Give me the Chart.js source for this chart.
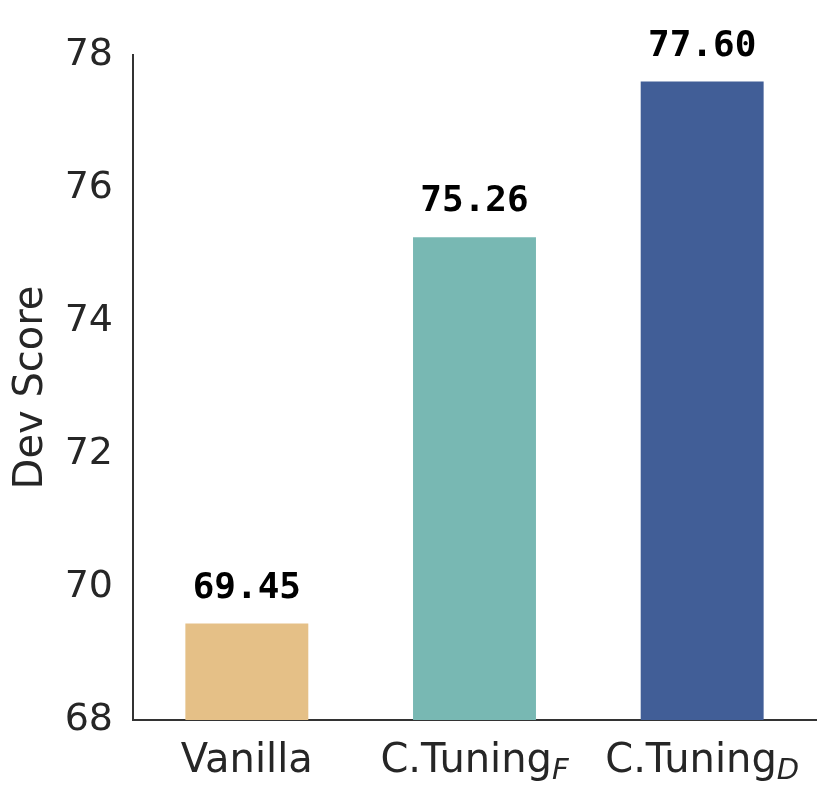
<!DOCTYPE html>
<html>
<head>
<meta charset="utf-8">
<script src="https://cdn.jsdelivr.net/npm/chart.js@4"></script>
<style>
  html, body { margin: 0; padding: 0; background: #fff; }
  #wrap { width: 830px; height: 798px; }
</style>
</head>
<body>
<div id="wrap"><canvas id="devChart"></canvas></div>
<script>
// data
const labelMain = ['Vanilla', 'C.Tuning', 'C.Tuning'];
const labelSub = ['', 'F', 'D'];
const devScores = [69.45, 75.26, 77.60];
const barColors = ['#e5c087', '#78b8b3', '#415e97'];
const yTicks = [68, 70, 72, 74, 76, 78];

const FONT = 'DejaVu Sans';
const TEXT = '#262626';

// value labels above bars + x labels with subscripts
const annotate = {
    id: 'annotate',
    afterDatasetsDraw(chart) {
        const ctx = chart.ctx;
        const meta = chart.getDatasetMeta(0);
        ctx.save();
        ctx.fillStyle = '#000';
        ctx.font = 'bold 36px "DejaVu Sans Mono"';
        ctx.textAlign = 'center';
        ctx.textBaseline = 'alphabetic';
        meta.data.forEach(function (bar, i) {
            ctx.fillText(devScores[i].toFixed(2), bar.x, bar.y - 26);
        });

        const xScale = chart.scales.x;
        const baseY = 772;
        ctx.fillStyle = TEXT;
        ctx.textAlign = 'left';
        labelMain.forEach(function (txt, i) {
            ctx.font = '40px "' + FONT + '"';
            const w1 = ctx.measureText(txt).width;
            ctx.font = 'italic 29px "' + FONT + '"';
            const w2 = labelSub[i] ? ctx.measureText(labelSub[i]).width : 0;
            const cx = xScale.getPixelForValue(i);
            const x0 = cx - (w1 + w2) / 2;
            ctx.font = '40px "' + FONT + '"';
            ctx.fillText(txt, x0, baseY);
            if (labelSub[i]) {
                ctx.font = 'italic 29px "' + FONT + '"';
                ctx.fillText(labelSub[i], x0 + w1, baseY + 7);
            }
        });
        ctx.restore();
    }
};

new Chart(document.getElementById('devChart'), {
    type: 'bar',
    data: {
        labels: labelMain.map((m, i) => m + labelSub[i]),
        datasets: [{
            data: devScores,
            backgroundColor: barColors,
            barPercentage: 0.54,
            categoryPercentage: 1.0
        }]
    },
    options: {
        responsive: true,
        maintainAspectRatio: false,
        animation: false,
        layout: { padding: { left: 0, top: 55, right: 14, bottom: 0 } },
        plugins: {
            legend: { display: false },
            tooltip: { enabled: false }
        },
        scales: {
            x: {
                grid: { display: false },
                border: { display: true, color: '#333', width: 2 },
                ticks: { display: false },
                afterFit: function (scale) { scale.height = 78; }
            },
            y: {
                min: 68,
                max: 78,
                afterBuildTicks: function (scale) {
                    scale.ticks = yTicks.map(v => ({ value: v }));
                },
                grid: { display: false },
                border: { display: true, color: '#333', width: 2 },
                ticks: {
                    color: TEXT,
                    padding: 12,
                    font: { family: FONT, size: 38 }
                },
                title: {
                    display: true,
                    text: 'Dev Score',
                    color: TEXT,
                    font: { family: FONT, size: 40 },
                    padding: { top: 8, bottom: 0 }
                },
                afterFit: function (scale) { scale.width = 133; }
            }
        }
    },
    plugins: [annotate]
});
</script>
</body>
</html>
